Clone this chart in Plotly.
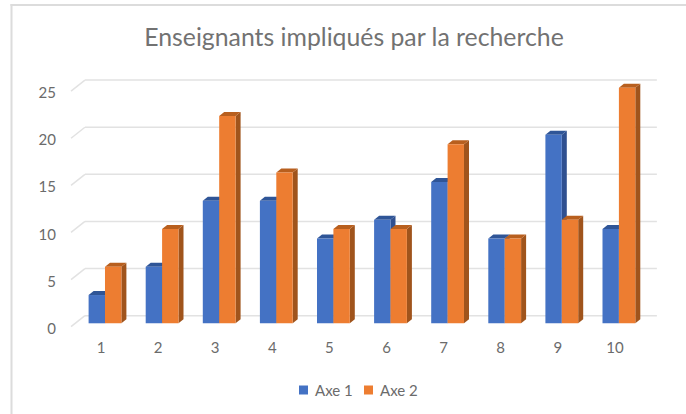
import plotly.graph_objects as go

categories = [1, 2, 3, 4, 5, 6, 7, 8, 9, 10]
axe1 = [3, 6, 13, 13, 9, 11, 15, 9, 20, 10]
axe2 = [6, 10, 22, 16, 10, 10, 19, 9, 11, 25]
y_ticks = [0, 5, 10, 15, 20, 25]
series_names = ["Axe 1", "Axe 2"]

TITLE = "Enseignants impliqués par la recherche"
BLUE, ORANGE = "#4472C4", "#ED7D31"
BLUE_SIDE, ORANGE_SIDE = "#2F5090", "#A0541C"
BLUE_TOP, ORANGE_TOP = "#2F5597", "#B85F1E"
TEXT = "#6b6b6b"
GRID = "#e2e2e2"
FONT = "Lato"

W, H = 686, 414
ML, MR, MT, MB = 60, 16, 60, 77
PW, PH = W - ML - MR, H - MT - MB


def px(p):
    return (p - ML) / PW


def py(p):
    return 1 - (p - MT) / PH


# pixels per data unit, used to express the pseudo-3D depth in axis units
PX_X, PX_Y = 57.1, 9.424
BAR_W = 16.4 / PX_X
DX, DY = 5 / PX_X, 4 / PX_Y              # bar depth
FRONT_X, FRONT_Y = -4 / PX_X, -3.4 / PX_Y  # front plane of the walls
LABEL_Y = -5.2 / PX_Y                    # tick label offset
BACK_DY = 7.6 / PX_Y                     # back wall lift
GRID_L, GRID_BL, GRID_R = 0.405, 0.649, 10.665


def poly(pts, color):
    path = "M" + " L".join(f"{x:.4f},{y:.4f}" for x, y in pts) + " Z"
    return dict(type="path", path=path, xref="x", yref="y", fillcolor=color,
                line=dict(width=0), layer="between")


shapes = []
for v in y_ticks:
    shapes.append(dict(type="line", xref="x", yref="y", layer="below",
                       x0=GRID_L, y0=v + FRONT_Y, x1=GRID_BL, y1=v + BACK_DY,
                       line=dict(color=GRID, width=1.5)))
    shapes.append(dict(type="line", xref="x", yref="y", layer="below",
                       x0=GRID_BL, y0=v + BACK_DY, x1=GRID_R, y1=v + BACK_DY,
                       line=dict(color=GRID, width=1.5)))

for vals, off, side, top in ((axe1, -BAR_W / 2, BLUE_SIDE, BLUE_TOP),
                             (axe2, BAR_W / 2, ORANGE_SIDE, ORANGE_TOP)):
    for c, v in zip(categories, vals):
        xl, xr = c + off - BAR_W / 2, c + off + BAR_W / 2
        shapes.append(poly([(xr, 0), (xr + DX, DY), (xr + DX, v + DY), (xr, v)], side))
        shapes.append(poly([(xl, v), (xl + DX, v + DY), (xr + DX, v + DY), (xr, v)], top))

# frame lines on the left and top of the picture
frame = "#dcdcdc"
shapes.append(dict(type="line", xref="paper", yref="paper", layer="above",
                   x0=px(11.5), x1=px(11.5), y0=py(4), y1=py(414),
                   line=dict(color=frame, width=2)))
shapes.append(dict(type="line", xref="paper", yref="paper", layer="above",
                   x0=px(10.5), x1=px(686), y0=py(5), y1=py(5),
                   line=dict(color=frame, width=2)))

# legend keys and labels
annotations = []
for name, color, kx, tx in zip(series_names, (BLUE, ORANGE), (299, 364), (313, 378)):
    shapes.append(dict(type="rect", xref="paper", yref="paper", layer="above",
                       x0=px(kx), x1=px(kx + 9), y0=py(394.5), y1=py(385.5),
                       fillcolor=color, line=dict(width=0)))
    annotations.append(dict(text=name, xref="paper", yref="paper", x=px(tx), y=py(390),
                            xanchor="left", yanchor="middle", showarrow=False,
                            xshift=0, font=dict(size=15, color=TEXT, family=FONT)))

fig = go.Figure()
fig.add_bar(x=categories, y=axe1, name=series_names[0], marker=dict(color=BLUE, line=dict(width=0)))
fig.add_bar(x=categories, y=axe2, name=series_names[1], marker=dict(color=ORANGE, line=dict(width=0)))

fig.update_layout(
    width=W, height=H, autosize=False, showlegend=False,
    margin=dict(l=ML, r=MR, t=MT, b=MB),
    paper_bgcolor="white", plot_bgcolor="white",
    barmode="group", bargap=0.4256, bargroupgap=0,
    font=dict(family=FONT, color=TEXT),
    title=dict(text=TITLE, x=354 / W, xanchor="center", y=1 - 37 / H, yanchor="middle",
               font=dict(size=24.8, family=FONT, color="#727272", weight=400)),
    xaxis=dict(range=[0.212, 10.895], tickmode="array",
               tickvals=[c + FRONT_X for c in categories], ticktext=[str(c) for c in categories],
               showgrid=False, zeroline=False, showline=False, ticks="", tickfont=dict(size=15, color=TEXT)),
    yaxis=dict(range=[(323.3 - (H - MB)) / PX_Y, 27.94], tickmode="array",
               tickvals=[v + LABEL_Y for v in y_ticks], ticktext=[str(v) for v in y_ticks],
               ticklabelstandoff=3,
               showgrid=False, zeroline=False, showline=False, ticks="", tickfont=dict(size=15, color=TEXT)),
    shapes=shapes, annotations=annotations,
)

fig.write_html("out.html", config=dict(displayModeBar=False),
               post_script="document.body.style.margin='0';")
